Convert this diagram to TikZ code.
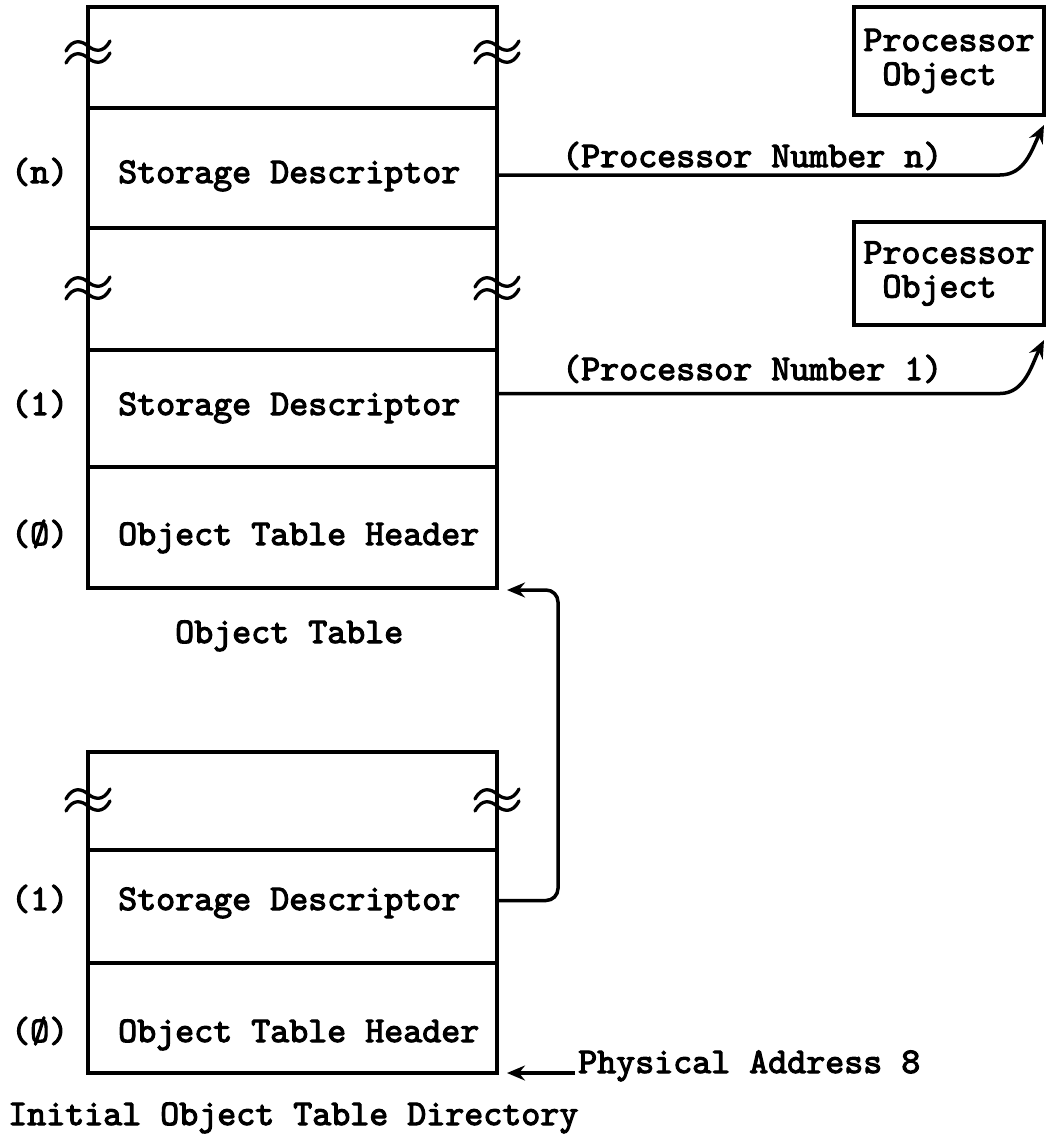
\documentclass[tikz,border=0pt]{standalone}
\usepackage{fontspec}
\newfontfamily\tw{lmmono10-regular.otf}[FakeBold=3]
\usetikzlibrary{arrows.meta}
\newcommand\twf{\tw\fontsize{36.2pt}{34pt}\selectfont}
\tikzset{
  cell/.style={draw, line width=3.5pt, rectangle, minimum width=409pt, inner sep=0pt, outer sep=0pt},
  pobox/.style={draw, line width=3.5pt, rectangle, minimum width=190pt, align=left, font=\twf, inner sep=0pt, outer sep=0pt},
  txt/.style={font=\twf, inner sep=0pt, anchor=base west},
  arr/.style={line width=3.5pt, -{Stealth[length=18pt,width=15pt,inset=6pt]}},
  brkmark/.pic={
    \draw[line width=3.3pt, line cap=round]
      (-22,-1) .. controls (-15,-14) and (-6,-11) .. (0,-6) .. controls (6,-1) and (15,2) .. (22,-11);
    \draw[line width=3.3pt, line cap=round]
      (-22,11) .. controls (-15,-2) and (-6,1) .. (0,6) .. controls (6,11) and (15,14) .. (22,1);
  }
}
\begin{document}
\begin{tikzpicture}[x=1pt, y=-1pt]
\useasboundingbox (0,0) rectangle (1047,1137);

% Object Table
\node[cell, minimum height=101pt] (t1) at (292.5,57.5) {};
\node[cell, minimum height=120pt] (t2) at (292.5,168) {};
\node[cell, minimum height=122pt] (t3) at (292.5,289) {};
\node[cell, minimum height=117pt] (t4) at (292.5,408.5) {};
\node[cell, minimum height=121pt] (t5) at (292.5,527.5) {};

% Initial Object Table Directory
\node[cell, minimum height=98pt]  (b1) at (292.5,801) {};
\node[cell, minimum height=113pt] (b2) at (292.5,906.5) {};
\node[cell, minimum height=110pt] (b3) at (292.5,1018) {};

% break marks
\foreach \bx/\by in {88/52, 497/52, 88/288, 497/288, 88/800, 497/800}
  \pic at (\bx,\by) {brkmark};

% cell texts
\node[txt] (t2l) at (118,183) {Storage Descriptor};
\node[txt] (t4l) at (118,415) {Storage Descriptor};
\node[txt] (t5l) at (118,545) {Object Table Header};
\node[txt] (b2l) at (118,910) {Storage Descriptor};
\node[txt] (b3l) at (118,1042) {Object Table Header};

% indices
\node[txt] (in) at (11,183) {(n)};
\node[txt] (i1) at (11,415) {(1)};
\node[txt] (i0) at (11,545) {(Ø)};
\node[txt] (j1) at (11,910) {(1)};
\node[txt] (j0) at (11,1042) {(Ø)};

% captions
\node[txt] (ot) at (175,643) {Object Table};
\node[txt] (iotd) at (8,1125) {Initial Object Table Directory};

% processor objects
\node[pobox, minimum height=108pt] (po1) at (949,61) {Processor\\~Object};
\node[pobox, minimum height=103pt] (po2) at (949,273.5) {Processor\\~Object};

\node[txt] (pnn) at (562,167) {(Processor Number n)};
\node[txt] (pn1) at (562,380) {(Processor Number 1)};
\node[txt] (pa) at (578,1073) {Physical Address 8};

% connectors
\draw[arr] ([yshift=-7pt]t2.east) -- ++(503,0)
  .. controls +(25,0) and +(-12,24) .. ([yshift=-10pt]po1.south east);
\draw[arr] ([yshift=15pt]t4.east) -- ++(503,0)
  .. controls +(25,0) and +(-12,24) .. ([yshift=-15pt]po2.south east);
\draw[arr, rounded corners=12pt] ([yshift=6pt]b2.east) -- ++(61,0)
  |- ([xshift=10pt,yshift=-2pt]t5.south east);
\draw[arr] ([xshift=-3pt]pa.base west) -- ([xshift=10pt]b3.south east);
\end{tikzpicture}
\end{document}
